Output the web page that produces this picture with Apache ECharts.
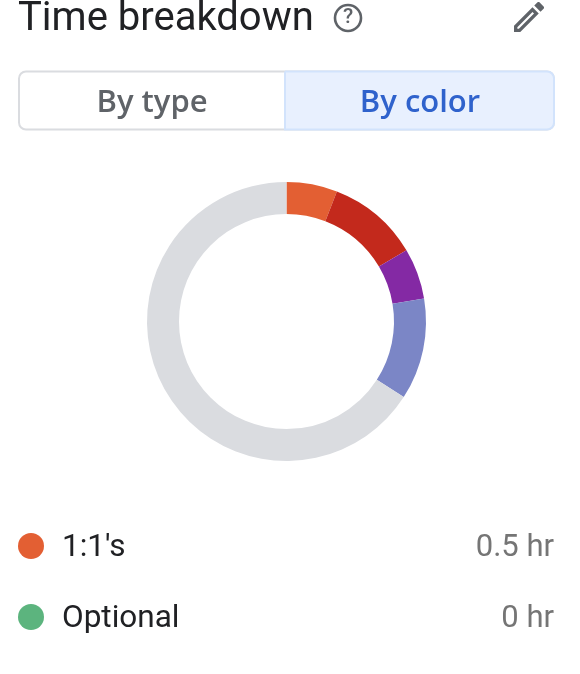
<!DOCTYPE html>
<html>
<head>
<meta charset="utf-8">
<title>Time breakdown</title>
<script src="https://cdn.jsdelivr.net/npm/echarts@6/dist/echarts.min.js"></script>
<style>
  html, body { margin: 0; padding: 0; background: #fff; }
  #chart { width: 580px; height: 674px; }
</style>
</head>
<body>
<div id="chart"></div>
<script>
const sliceNames = ["1:1's", 'Red', 'Purple', 'Blue', 'Grey'];
const sliceHours = [0.5, 0.9, 0.5, 1.0, 5.6];
const sliceColors = ['#e35f33', '#c3291c', '#8429a4', '#7b86c6', '#dadce0'];

const legendNames = ["1:1's", 'Optional'];
const legendValues = ['0.5 hr', '0 hr'];
const legendColors = ['#e35f33', '#5cb47e'];
const legendRowY = [546, 617];

const tabLabels = ['By type', 'By color'];

const editIcon = 'M14.06 9.02l.92.92L5.92 19H5v-.92l9.06-9.06M17.66 3c-.25 0-.51.1-.7.29l-1.83 1.83 3.75 3.75 1.83-1.83c.39-.39.39-1.02 0-1.41l-2.34-2.34c-.2-.2-.45-.29-.71-.29zm-3.6 3.19L3 17.25V21h3.75L17.81 9.94l-3.75-3.75z';
echarts.graphic.registerShape('editIcon', echarts.graphic.extendPath(editIcon, {}));

const chart = echarts.init(document.getElementById('chart'), null, { renderer: 'canvas' });

const graphics = [
  { type: 'text', x: 18, y: 20, style: { text: 'Time breakdown', font: '400 40px Roboto', fill: '#202124', verticalAlign: 'middle' } },
  { type: 'circle', shape: { cx: 348, cy: 18, r: 13 }, style: { fill: 'none', stroke: '#5f6368', lineWidth: 2.6 } },
  { type: 'text', x: 348, y: 18, style: { text: '?', font: '500 21px Roboto', fill: '#5f6368', align: 'center', verticalAlign: 'middle' } },
  { type: 'editIcon', x: 509, y: -3, scaleX: 1.67, scaleY: 1.67, style: { fill: '#5f6368' } },

  // toggle
  { type: 'rect', shape: { x: 19, y: 71.5, width: 535, height: 58, r: 7 }, style: { fill: '#fff', stroke: '#dadce0', lineWidth: 2 } },
  { type: 'rect', shape: { x: 285, y: 71.5, width: 269, height: 58, r: [0, 7, 7, 0] }, style: { fill: '#e8f0fe', stroke: '#d2e3fc', lineWidth: 2 } },
  { type: 'text', x: 152, y: 103, style: { text: tabLabels[0], font: '600 31px "Open Sans"', fill: '#5f6368', align: 'center', verticalAlign: 'middle' } },
  { type: 'text', x: 420, y: 103, style: { text: tabLabels[1], font: '600 31px "Open Sans"', fill: '#2f62cc', align: 'center', verticalAlign: 'middle' } }
];

legendNames.forEach((name, i) => {
  graphics.push(
    { type: 'circle', shape: { cx: 31, cy: legendRowY[i], r: 13 }, style: { fill: legendColors[i] } },
    { type: 'text', x: 62, y: legendRowY[i] + 2, style: { text: name, font: '400 31.5px Roboto', fill: '#202124', verticalAlign: 'middle' } },
    { type: 'text', x: 554, y: legendRowY[i] + 2, style: { text: legendValues[i], font: '400 31px Roboto', fill: '#757575', align: 'right', verticalAlign: 'middle' } }
  );
});

chart.setOption({
  animation: false,
  backgroundColor: '#fff',
  graphic: graphics,
  series: [{
    type: 'pie',
    center: [286.5, 321.5],
    radius: [107.5, 139.5],
    startAngle: 90,
    clockwise: true,
    silent: true,
    label: { show: false },
    labelLine: { show: false },
    data: sliceHours.map((h, i) => ({
      name: sliceNames[i],
      value: h,
      itemStyle: { color: sliceColors[i] }
    }))
  }]
});
</script>
</body>
</html>
